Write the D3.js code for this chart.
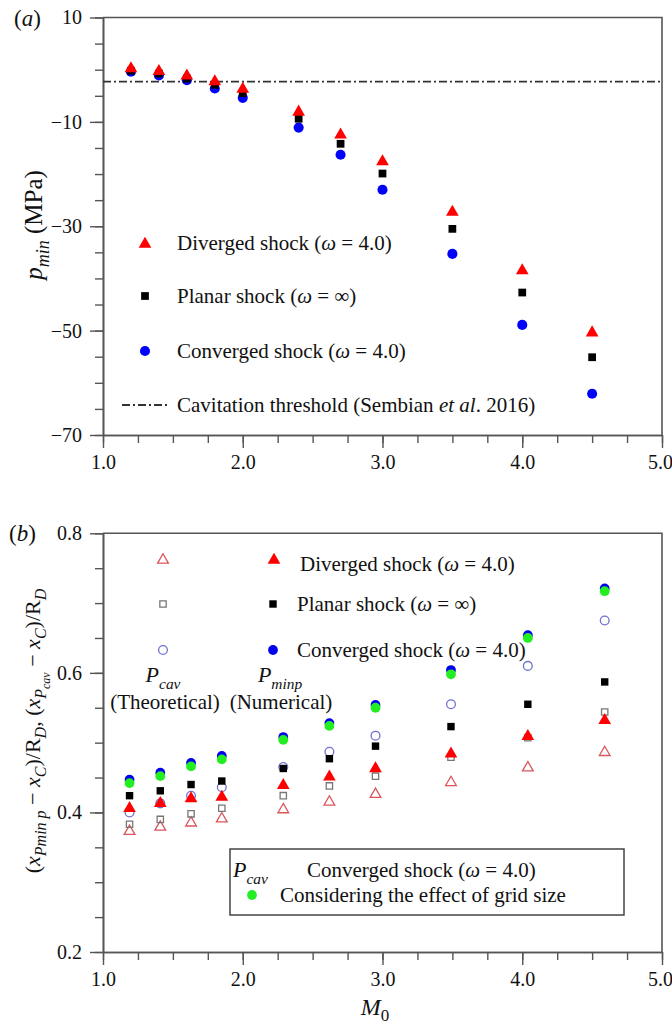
<!DOCTYPE html>
<html>
<head>
<meta charset="utf-8">
<script src="https://cdn.jsdelivr.net/npm/d3@7"></script>
<style>
  body { margin: 0; background: #fff; }
  svg { display: block; font-family: "Liberation Serif", "Times New Roman", serif; }
</style>
</head>
<body>
<div id="chart"></div>
<script>
// --- data, panel (a) ---
const machA = [1.2, 1.4, 1.6, 1.8, 2.0, 2.4, 2.7, 3.0, 3.5, 4.0, 4.5];
const pDiverged = [0.2, -0.3, -1.2, -2.3, -3.7, -8.1, -12.5, -17.6, -27.3, -38.5, -50.4];
const pPlanar = [-0.2, -0.75, -1.7, -2.9, -4.5, -9.4, -14.2, -19.9, -30.5, -42.7, -55.1];
const pConverged = [-0.4, -1.1, -2.0, -3.6, -5.4, -11.1, -16.3, -23.0, -35.3, -48.9, -62.1];
const cavThreshold = -2.3;
const xTicks = [1, 2, 3, 4, 5];
const yTicksA = [10, -10, -30, -50, -70];

// --- data, panel (b) ---
const machB = [1.19, 1.41, 1.63, 1.85, 2.29, 2.62, 2.95, 3.49, 4.04, 4.59];
const minpDiverged = [0.406, 0.413, 0.420, 0.422, 0.439, 0.451, 0.463, 0.484, 0.509, 0.532];
const minpPlanar = [0.424, 0.431, 0.440, 0.445, 0.463, 0.477, 0.495, 0.523, 0.555, 0.587];
const minpConverged = [0.447, 0.457, 0.471, 0.481, 0.508, 0.528, 0.554, 0.604, 0.654, 0.721];
const minpGrid = [0.442, 0.452, 0.466, 0.476, 0.504, 0.524, 0.550, 0.598, 0.650, 0.717];
const cavDiverged = [0.373, 0.379, 0.385, 0.391, 0.404, 0.415, 0.426, 0.443, 0.464, 0.486];
const cavPlanar = [0.383, 0.390, 0.398, 0.406, 0.424, 0.438, 0.452, 0.479, 0.507, 0.544];
const cavConverged = [0.400, 0.413, 0.424, 0.436, 0.465, 0.487, 0.510, 0.555, 0.610, 0.675];
const yTicksB = [0.8, 0.6, 0.4, 0.2];

const W = 672, H = 1026;
const left = 103, right = 662;
const axisColor = "#555";
const serif = "Liberation Serif, Times New Roman, serif";

const svg = d3.select("#chart").append("svg").attr("width", W).attr("height", H);

const x = d3.scaleLinear().domain([1, 5]).range([left, right]);
const yA = d3.scaleLinear().domain([-70, 10]).range([435, 17.5]);
const yB = d3.scaleLinear().domain([0.2, 0.8]).range([952, 533.3]);

const sym = (type, size) => d3.symbol().type(type).size(size)();

function drawFrame(y, majorY, minorY, fmt) {
    const top = y.range()[1], bottom = y.range()[0];
    // minor ticks
    svg.append("g").attr("transform", `translate(0,${bottom})`)
        .call(d3.axisBottom(x).tickValues(d3.range(1, 5.01, 0.25)).tickSize(8).tickFormat("").tickSizeOuter(0));
    svg.append("g").attr("transform", `translate(${left},0)`)
        .call(d3.axisLeft(y).tickValues(minorY).tickSize(8).tickFormat("").tickSizeOuter(0));
    // major ticks
    svg.append("g").attr("class", "major xmajor").attr("transform", `translate(0,${bottom})`)
        .call(d3.axisBottom(x).tickValues(xTicks).tickSize(13).tickPadding(7).tickFormat(d3.format(".1f")).tickSizeOuter(0));
    svg.append("g").attr("class", "major").attr("transform", `translate(${left},0)`)
        .call(d3.axisLeft(y).tickValues(majorY).tickSize(13).tickPadding(8).tickFormat(fmt).tickSizeOuter(0));
    // top and right border
    svg.append("path").attr("d", `M${left},${top}H${right}V${bottom}`)
        .attr("fill", "none").attr("stroke", axisColor).attr("stroke-width", 1.6);
}

drawFrame(yA, yTicksA, d3.range(-70, 10.01, 5), d3.format("d"));
drawFrame(yB, yTicksB, d3.range(0.2, 0.801, 0.05), d3.format(".1f"));

svg.selectAll(".domain").attr("stroke", axisColor).attr("stroke-width", 1.6);
svg.selectAll(".tick line").attr("stroke", axisColor).attr("stroke-width", 1.4);
svg.selectAll(".major").attr("font-family", serif).attr("font-size", 20);
svg.selectAll(".major text").attr("font-size", 20).attr("fill", "#111").attr("font-family", serif);
// keep the last x label inside the page
svg.selectAll(".xmajor .tick text").filter(d => d === 5).attr("dx", -2);

// --- panel (a) marks ---
svg.append("line").attr("x1", left).attr("x2", right - 2)
    .attr("y1", yA(cavThreshold)).attr("y2", yA(cavThreshold))
    .attr("stroke", "#333").attr("stroke-width", 1.8).attr("stroke-dasharray", "8,3,2,3");

function plotSeries(xs, ys, y, shape, size, fill, stroke) {
    svg.append("g").selectAll("path").data(xs).join("path")
        .attr("d", sym(shape, size))
        .attr("transform", (d, i) => `translate(${x(d)},${y(ys[i])})`)
        .attr("fill", fill).attr("stroke", stroke || "none").attr("stroke-width", 1.3);
}

plotSeries(machA, pConverged, yA, d3.symbolCircle, 80, "#0000ff");
plotSeries(machA, pPlanar, yA, d3.symbolSquare, 60, "#000");
plotSeries(machA, pDiverged, yA, d3.symbolTriangle, 70, "#ff0000");

// --- panel (b) marks ---
plotSeries(machB, cavDiverged, yB, d3.symbolTriangle, 50, "none", "#d9565b");
plotSeries(machB, cavPlanar, yB, d3.symbolSquare, 40, "none", "#777");
plotSeries(machB, cavConverged, yB, d3.symbolCircle, 60, "none", "#7070d0");
plotSeries(machB, minpDiverged, yB, d3.symbolTriangle, 70, "#ff0000");
plotSeries(machB, minpPlanar, yB, d3.symbolSquare, 55, "#000");
plotSeries(machB, minpConverged, yB, d3.symbolCircle, 75, "#0000ee");
plotSeries(machB, minpGrid, yB, d3.symbolCircle, 75, "#22ee22");

// --- text helpers ---
function txt(xp, yp, size) {
    return svg.append("text").attr("x", xp).attr("y", yp).attr("font-size", size).attr("fill", "#111");
}
function omegaLabel(t, pre, val) {
    t.append("tspan").text(pre + " (");
    t.append("tspan").attr("font-style", "italic").text("ω");
    t.append("tspan").text(" = " + val + ")");
}
function marker(xp, yp, shape, size, fill, stroke) {
    svg.append("path").attr("d", sym(shape, size)).attr("transform", `translate(${xp},${yp})`)
        .attr("fill", fill).attr("stroke", stroke || "none").attr("stroke-width", 1.3);
}
function subText(xp, yp, main, sub, size, anchor) {
    const t = txt(xp, yp, size).attr("text-anchor", anchor || "start");
    t.append("tspan").attr("font-style", "italic").text(main);
    t.append("tspan").attr("font-style", "italic").attr("font-size", size * 0.7).attr("dy", size * 0.3).text(sub);
    return t;
}

// titles
const ta = txt(14, 26, 23); ta.append("tspan").text("("); ta.append("tspan").attr("font-style", "italic").text("a"); ta.append("tspan").text(")");
const tb = txt(9, 541, 23); tb.append("tspan").text("("); tb.append("tspan").attr("font-style", "italic").text("b"); tb.append("tspan").text(")");

// legend (a)
marker(145, 244, d3.symbolTriangle, 70, "#ff0000");
omegaLabel(txt(177, 250, 21), "Diverged shock", "4.0");
marker(145, 296, d3.symbolSquare, 60, "#000");
omegaLabel(txt(177, 303, 21), "Planar shock", "∞");
marker(145, 351, d3.symbolCircle, 80, "#0000ff");
omegaLabel(txt(177, 358, 21), "Converged shock", "4.0");
svg.append("line").attr("x1", 122).attr("x2", 170).attr("y1", 405).attr("y2", 405)
    .attr("stroke", "#333").attr("stroke-width", 1.8).attr("stroke-dasharray", "8,3,2,3");
const cav = txt(177, 412, 21);
cav.append("tspan").text("Cavitation threshold (Sembian ");
cav.append("tspan").attr("font-style", "italic").text("et al");
cav.append("tspan").text(". 2016)");

// axis label (a)
const la = svg.append("text").attr("transform", "translate(42,225) rotate(-90)")
    .attr("text-anchor", "middle").attr("font-size", 25).attr("fill", "#111");
la.append("tspan").attr("font-style", "italic").text("p");
la.append("tspan").attr("font-style", "italic").attr("font-size", 18).attr("dy", 7).text("min");
la.append("tspan").attr("dy", -7).text(" (MPa)");

// legend (b)
marker(163, 560, d3.symbolTriangle, 50, "none", "#d9565b");
marker(274, 560, d3.symbolTriangle, 70, "#ff0000");
omegaLabel(txt(300, 571, 21), "Diverged shock", "4.0");
marker(163, 604, d3.symbolSquare, 40, "none", "#777");
marker(273, 604, d3.symbolSquare, 55, "#000");
omegaLabel(txt(297, 611, 21), "Planar shock", "∞");
marker(163, 650, d3.symbolCircle, 60, "none", "#7070d0");
marker(273, 650, d3.symbolCircle, 75, "#0000ee");
omegaLabel(txt(297, 657, 21), "Converged shock", "4.0");
subText(163, 682, "P", "cav", 22, "middle");
txt(165, 709, 21).attr("text-anchor", "middle").text("(Theoretical)");
subText(280, 682, "P", "minp", 22, "middle");
txt(281, 709, 21).attr("text-anchor", "middle").text("(Numerical)");

// grid size legend box
svg.append("rect").attr("x", 230).attr("y", 849).attr("width", 394).attr("height", 66)
    .attr("fill", "#fff").attr("stroke", "#444").attr("stroke-width", 1.5);
subText(233, 877, "P", "cav", 22);
omegaLabel(txt(307, 877, 21), "Converged shock", "4.0");
marker(252, 895, d3.symbolCircle, 75, "#22ee22");
txt(280, 902, 21).text("Considering the effect of grid size");

// axis label (b)
const lb = svg.append("text").attr("transform", "translate(40,731) rotate(-90)")
    .attr("text-anchor", "middle").attr("font-size", 22).attr("fill", "#111");
lb.append("tspan").text("(");
lb.append("tspan").attr("font-style", "italic").text("x");
lb.append("tspan").attr("font-style", "italic").attr("font-size", 16).attr("dy", 6).text("Pmin p");
lb.append("tspan").attr("dy", -6).text(" − ");
lb.append("tspan").attr("font-style", "italic").text("x");
lb.append("tspan").attr("font-style", "italic").attr("font-size", 16).attr("dy", 6).text("C");
lb.append("tspan").attr("dy", -6).text(")/R");
lb.append("tspan").attr("font-style", "italic").attr("font-size", 16).attr("dy", 6).text("D");
lb.append("tspan").attr("dy", -6).text(", (");
lb.append("tspan").attr("font-style", "italic").text("x");
lb.append("tspan").attr("font-style", "italic").attr("font-size", 16).attr("dy", 6).text("P");
lb.append("tspan").attr("font-style", "italic").attr("font-size", 12).attr("dy", 4).text("cav");
lb.append("tspan").attr("dy", -10).text(" − ");
lb.append("tspan").attr("font-style", "italic").text("x");
lb.append("tspan").attr("font-style", "italic").attr("font-size", 16).attr("dy", 6).text("C");
lb.append("tspan").attr("dy", -6).text(")/R");
lb.append("tspan").attr("font-style", "italic").attr("font-size", 16).attr("dy", 6).text("D");

// x label (b)
const mx = txt(375, 1015, 24).attr("text-anchor", "middle");
mx.append("tspan").attr("font-style", "italic").text("M");
mx.append("tspan").attr("font-size", 17).attr("dy", 6).text("0");
</script>
</body>
</html>
